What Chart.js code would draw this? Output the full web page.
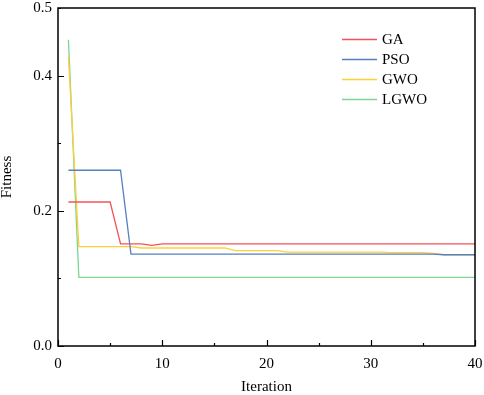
<!DOCTYPE html>
<html>
<head>
<meta charset="utf-8">
<script src="https://cdn.jsdelivr.net/npm/chart.js@4.4.1/dist/chart.umd.min.js"></script>
<style>
  html, body { margin: 0; padding: 0; background: #fff; }
  #wrap { width: 484px; height: 395px; }
</style>
</head>
<body>
<div id="wrap"><canvas id="myChart"></canvas></div>
<script>
// iterations 1..40
const iterations = [1,2,3,4,5,6,7,8,9,10,11,12,13,14,15,16,17,18,19,20,
                    21,22,23,24,25,26,27,28,29,30,31,32,33,34,35,36,37,38,39,40];

const gaFitness = [0.213,0.213,0.213,0.213,0.213,0.151,0.151,0.151,0.149,0.151,
                   0.151,0.151,0.151,0.151,0.151,0.151,0.151,0.151,0.151,0.151,
                   0.151,0.151,0.151,0.151,0.151,0.151,0.151,0.151,0.151,0.151,
                   0.151,0.151,0.151,0.151,0.151,0.151,0.151,0.151,0.151,0.151];

const psoFitness = [0.260,0.260,0.260,0.260,0.260,0.260,0.136,0.136,0.136,0.136,
                    0.136,0.136,0.136,0.136,0.136,0.136,0.136,0.136,0.136,0.136,
                    0.136,0.136,0.136,0.136,0.136,0.136,0.136,0.136,0.136,0.136,
                    0.136,0.136,0.136,0.136,0.136,0.136,0.135,0.135,0.135,0.135];

const gwoFitness = [0.428,0.147,0.147,0.147,0.147,0.147,0.147,0.145,0.145,0.145,
                    0.145,0.145,0.145,0.145,0.145,0.145,0.141,0.141,0.141,0.141,
                    0.141,0.139,0.139,0.139,0.139,0.139,0.139,0.139,0.139,0.139,
                    0.139,0.138,0.138,0.138,0.138,0.137,0.135,0.135,0.135,0.135];

const lgwoFitness = [0.453,0.1015,0.1015,0.1015,0.1015,0.1015,0.1015,0.1015,0.1015,0.1015,
                     0.1015,0.1015,0.1015,0.1015,0.1015,0.1015,0.1015,0.1015,0.1015,0.1015,
                     0.1015,0.1015,0.1015,0.1015,0.1015,0.1015,0.1015,0.1015,0.1015,0.1015,
                     0.1015,0.1015,0.1015,0.1015,0.1015,0.1015,0.1015,0.1015,0.1015,0.1015];

const seriesNames = ["GA", "PSO", "GWO", "LGWO"];
const seriesColors = ["#f2535b", "#5580c2", "#ffcf3a", "#7dd494"];
const xMajorTicks = [0, 10, 20, 30, 40];
const yLabelTicks = [0.0, 0.2, 0.4, 0.5];

Chart.defaults.font.family = "'Liberation Serif', 'Times New Roman', serif";
Chart.defaults.font.size = 15;
Chart.defaults.color = "#000";

const toPoints = (vals) => vals.map((v, i) => ({x: iterations[i], y: v}));
const allSeries = [gaFitness, psoFitness, gwoFitness, lgwoFitness];

// box, inward ticks and in-plot legend (Origin style)
const framePlugin = {
    id: "frame",
    afterDraw(chart) {
        const {ctx, chartArea: a, scales: {x, y}} = chart;
        ctx.save();
        ctx.strokeStyle = "#000";
        ctx.lineWidth = 1.5;
        ctx.strokeRect(a.left, a.top, a.right - a.left, a.bottom - a.top);
        ctx.lineWidth = 1.2;
        ctx.beginPath();
        x.ticks.forEach(t => {
            const px = Math.round(x.getPixelForValue(t.value)) + 0.5;
            const len = xMajorTicks.includes(t.value) ? 6 : 3;
            ctx.moveTo(px, a.bottom);
            ctx.lineTo(px, a.bottom - len);
        });
        y.ticks.forEach(t => {
            const py = Math.round(y.getPixelForValue(t.value)) + 0.5;
            const len = Math.round(t.value * 10) % 2 === 0 ? 6 : 3;
            ctx.moveTo(a.left, py);
            ctx.lineTo(a.left + len, py);
        });
        ctx.stroke();

        // legend
        ctx.font = "15px 'Liberation Serif'";
        ctx.textBaseline = "middle";
        ctx.fillStyle = "#000";
        chart.data.datasets.forEach((ds, i) => {
            const ly = 39 + i * 20;
            ctx.strokeStyle = ds.borderColor;
            ctx.lineWidth = 1.5;
            ctx.beginPath();
            ctx.moveTo(342, ly + 0.5);
            ctx.lineTo(377, ly + 0.5);
            ctx.stroke();
            ctx.fillText(ds.label, 382, ly + 1);
        });
        ctx.restore();
    }
};

new Chart(document.getElementById("myChart"), {
    type: "line",
    data: {
        datasets: seriesNames.map((name, i) => ({
            label: name,
            data: toPoints(allSeries[i]),
            borderColor: seriesColors[i],
            backgroundColor: seriesColors[i],
            borderWidth: 1.3,
            pointRadius: 0,
            tension: 0,
            fill: false
        }))
    },
    options: {
        responsive: true,
        maintainAspectRatio: false,
        animation: false,
        layout: { padding: { left: 0, right: 9, top: 8, bottom: 0 } },
        plugins: {
            legend: { display: false },
            tooltip: { enabled: false }
        },
        scales: {
            x: {
                type: "linear",
                min: 0,
                max: 40,
                grid: { display: false, drawTicks: false },
                border: { display: false },
                ticks: {
                    stepSize: 5,
                    padding: 9,
                    maxRotation: 0,
                    autoSkip: false,
                    callback: (v) => xMajorTicks.includes(v) ? String(v) : ""
                },
                title: {
                    display: true,
                    text: "Iteration",
                    font: { size: 15, lineHeight: 1 },
                    padding: 0
                },
                afterFit: (scale) => {
                    scale.height = 49;
                    scale.paddingRight = 0;
                }
            },
            y: {
                min: 0,
                max: 0.5,
                grid: { display: false, drawTicks: false },
                border: { display: false },
                ticks: {
                    stepSize: 0.1,
                    padding: 6,
                    autoSkip: false,
                    callback: (v) => yLabelTicks.some(t => Math.abs(t - v) < 1e-6) ? v.toFixed(1) : ""
                },
                title: {
                    display: true,
                    text: "Fitness",
                    font: { size: 15, lineHeight: 1 },
                    padding: 0
                },
                afterFit: (scale) => {
                    scale.width = 58;
                    scale.paddingTop = 0;
                    scale.paddingBottom = 0;
                }
            }
        }
    },
    plugins: [framePlugin]
});
</script>
</body>
</html>
